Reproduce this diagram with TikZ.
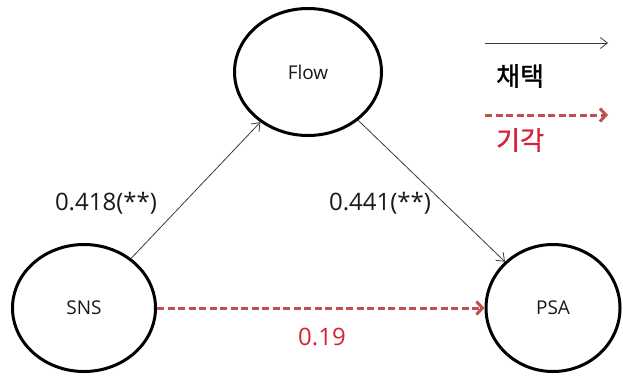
\documentclass[tikz,border=0pt]{standalone}
\usepackage{fontspec}
\setmainfont{Open Sans}
\newfontfamily\kr{Noto Sans CJK KR}[FakeBold=1.2]
\usetikzlibrary{shapes.geometric,arrows.meta}
\definecolor{dashred}{RGB}{192,80,77}
\definecolor{txtred}{RGB}{218,32,52}
\definecolor{linegray}{RGB}{60,60,60}
\definecolor{txtdark}{RGB}{25,25,25}
\tikzset{
  latent/.style={ellipse, draw=black, line width=3bp, inner sep=0pt, minimum height=127bp, text=txtdark, font=\fontsize{19bp}{22bp}\selectfont},
  adopt/.style={draw=linegray, line width=0.8bp, -{Straight Barb[length=7bp,width=11bp]}},
  reject/.style={draw=dashred, line width=3bp, dash pattern=on 7bp off 3.5bp, -{Straight Barb[length=6bp,width=13bp,line width=3bp]}},
  coef/.style={font=\fontsize{24bp}{28bp}\selectfont, text=txtdark, inner sep=0pt},
  legtxt/.style={font=\kr\fontsize{26bp}{30bp}\selectfont, inner sep=0pt, anchor=west}
}
\begin{document}
\begin{tikzpicture}[x=1bp,y=-1bp]
\useasboundingbox[fill=white] (0,0) rectangle (623,375);
\node[latent, minimum width=147bp] (Flow) at (308,72) {Flow};
\node[latent, minimum width=143bp] (SNS) at (84,308) {SNS};
\node[latent, minimum width=134bp] (PSA) at (553,308) {PSA};
\draw[adopt] (SNS) -- (Flow);
\draw[adopt] (Flow) -- (PSA);
\draw[reject] (SNS.east) -- (PSA.west);
\node[coef] (c1) at (106,203) {0.418(**)};
\node[coef] (c2) at (380,203) {0.441(**)};
\node[coef, text=txtred] (c3) at (322,337) {0.19};
% legend
\coordinate (la1) at (485,43);
\coordinate (lb1) at (608,43);
\draw[adopt] (la1) -- (lb1);
\node[legtxt, text=black] (l1) at (496,76) {채택};
\coordinate (la2) at (485,115);
\coordinate (lb2) at (608,115);
\draw[reject] (la2) -- (lb2);
\node[legtxt, text=txtred] (l2) at (496,140) {기각};
\end{tikzpicture}
\end{document}
